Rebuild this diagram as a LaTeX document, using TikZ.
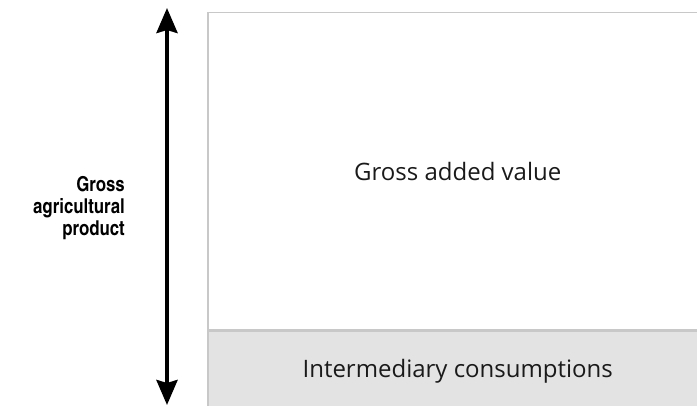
\documentclass[tikz,border=0pt]{standalone}
\usepackage{fontspec}
\setmainfont{Open Sans}
\newfontfamily\condfont{TeX Gyre Heros Cn}
\usepackage{tikz}
\usetikzlibrary{arrows.meta, positioning, calc}
\definecolor{boxgrey}  {RGB}{200, 200, 200}
\definecolor{bandgrey} {RGB}{227, 227, 227}
\definecolor{textdark} {RGB}{26,  26,  26}

\begin{document}
\begin{tikzpicture}[x=1pt,y=1pt,
		part/.style={draw=boxgrey,line width=1.5pt,inner sep=0pt,minimum width=500pt,
			font=\fontsize{24}{28}\selectfont,text=textdark,anchor=north west},
		sidelabel/.style={font=\condfont\bfseries\fontsize{20.5}{22}\selectfont,align=right,anchor=east,inner sep=0pt}
	]
	\useasboundingbox (0,0) rectangle (697,-405);
	\clip (0,0) rectangle (697,-405);
	\node[part,minimum height=317.5pt] (gav) at (207,-11.5) {Gross added value};
	\node[part,minimum height=80pt,fill=bandgrey] (ic) at (gav.south west) {Intermediary consumptions};
	\coordinate (top) at (167,-8);
	\coordinate (bot) at (167,-405);
	\draw[line width=4pt,{Stealth[length=25pt,width=21pt,inset=3pt]}-{Stealth[length=25pt,width=21pt,inset=3pt]}] (top)--(bot);
	\node[sidelabel] (gap) at (125,-208) {Gross\\agricultural\\product};
\end{tikzpicture}
\end{document}
